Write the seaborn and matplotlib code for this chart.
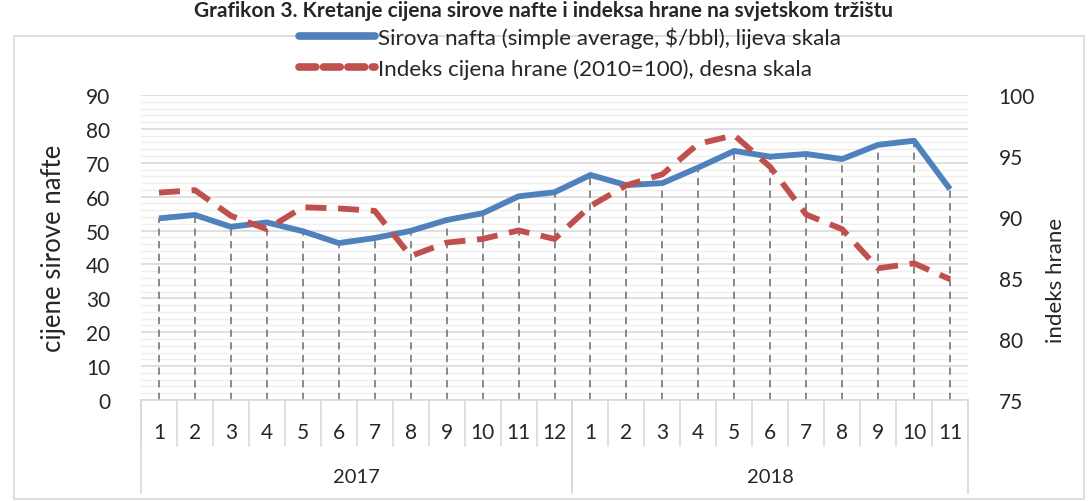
import matplotlib
matplotlib.use("Agg")
import matplotlib.pyplot as plt
import matplotlib.patches as mpatches
import matplotlib.transforms as mtrans
from matplotlib.ticker import MultipleLocator
import seaborn as sns
import pandas as pd
import numpy as np

title = "Grafikon 3. Kretanje cijena sirove nafte i indeksa hrane na svjetskom tržištu"
oil_label = "Sirova nafta (simple average, $/bbl), lijeva skala"
food_label = "Indeks cijena hrane (2010=100), desna skala"
left_label = "cijene sirove nafte"
right_label = "indeks hrane"

months = ["1", "2", "3", "4", "5", "6", "7", "8", "9", "10", "11", "12",
          "1", "2", "3", "4", "5", "6", "7", "8", "9", "10", "11"]
years = ["2017", "2018"]
year_counts = [12, 11]
oil = [53.6, 54.6, 51.1, 52.4, 49.8, 46.3, 47.8, 49.9, 53.1, 55.1, 60.1, 61.3,
       66.4, 63.4, 64.0, 68.6, 73.5, 71.8, 72.6, 71.1, 75.3, 76.5, 62.2]
food = [92.0, 92.2, 90.1, 89.0, 90.8, 90.7, 90.5, 86.8, 87.9, 88.2, 88.9, 88.2,
        90.9, 92.6, 93.5, 96.0, 96.7, 94.1, 90.2, 89.0, 85.8, 86.2, 84.9]

sns.set_theme(style="white")
FONT = ["Lato", "DejaVu Sans"]
plt.rcParams["font.family"] = FONT

BLUE = "#4F81BD"
RED = "#C0504D"

df = pd.DataFrame({"x": np.arange(len(months)), "oil": oil, "food": food})

fig = plt.figure(figsize=(10.88, 5.02), dpi=100)
ax = fig.add_axes([141 / 1088, 1 - 401 / 502, (968 - 141) / 1088, (401 - 96) / 502])
ax2 = ax.twinx()

# drop lines
ax.vlines(df["x"], 0, df["oil"], colors="#7f7f7f", linestyles=(0, (4, 3)), linewidth=1.3, zorder=2)

sns.lineplot(data=df, x="x", y="oil", ax=ax, color=BLUE, linewidth=4.2, zorder=4, legend=False)
sns.lineplot(data=df, x="x", y="food", ax=ax2, color=RED, linewidth=4.2, zorder=4, legend=False)
l2 = ax2.get_lines()[0]
l2.set_dashes((3.6, 2.0))
ax.get_lines()[0].set_solid_capstyle("butt")

ax.set_xlim(-0.5, len(months) - 0.5)
ax.set_ylim(0, 90)
ax2.set_ylim(75, 100)
ax.yaxis.set_major_locator(MultipleLocator(10))
ax.yaxis.set_minor_locator(MultipleLocator(2))
ax2.yaxis.set_major_locator(MultipleLocator(5))
ax.grid(True, which="major", axis="y", color="#d9d9d9", linewidth=1.2)
ax.grid(True, which="minor", axis="y", color="#efefef", linewidth=1.0)
ax.grid(False, axis="x")
ax2.grid(False)
ax.set_axisbelow(True)

for a in (ax, ax2):
    for s in a.spines.values():
        s.set_visible(False)
ax.spines["bottom"].set_visible(True)
ax.spines["bottom"].set_color("#d9d9d9")
ax.spines["bottom"].set_linewidth(1.2)

ax.tick_params(axis="y", which="both", length=0, labelsize=15, pad=22)
ax2.tick_params(axis="y", which="both", length=0, labelsize=15, pad=22)
ax.tick_params(axis="x", length=0, labelbottom=False)
ax.set_xticks(df["x"])
ax.set_xlabel("")
ax.set_ylabel(left_label, fontsize=18.5)
ax.yaxis.set_label_coords(-(141 - 66) / 827, 0.5)
ax2.set_ylabel(right_label, fontsize=16)
ax2.yaxis.set_label_position("right")
ax2.yaxis.set_label_coords((1046 - 141) / 827, (401 - 280) / 305)

# category axis boxes
trans = mtrans.blended_transform_factory(ax.transData, ax.transAxes)
month_h = -(447 - 401) / 305
year_h = -(494 - 401) / 305
for i in range(len(months) + 1):
    ax.plot([i - 0.5, i - 0.5], [0, month_h], transform=trans, color="#d9d9d9",
            linewidth=1.2, clip_on=False)
for i, m in enumerate(months):
    ax.text(i, -(433 - 401) / 305, m, transform=trans, ha="center", va="center",
            fontsize=15)
start = 0
for y, c in zip(years, year_counts):
    for b in (start, start + c):
        ax.plot([b - 0.5, b - 0.5], [0, year_h], transform=trans, color="#d9d9d9",
                linewidth=1.2, clip_on=False)
    ax.text(start + (c - 1) / 2, -(478 - 401) / 305, y, transform=trans,
            ha="center", va="center", fontsize=14.5)
    start += c

# chart border
fig.patches.append(mpatches.Rectangle((14 / 1088, 1 - 500 / 502), (1084 - 14) / 1088,
                                      (500 - 37) / 502, transform=fig.transFigure,
                                      fill=False, edgecolor="#d9d9d9", linewidth=1.2))

fig.text(0.5, 1 - 1 / 502, title, ha="center", va="top", fontsize=15, fontweight="bold")

handles = [plt.Line2D([], [], color=BLUE, linewidth=5.5, solid_capstyle="round"),
           plt.Line2D([], [], color=RED, linewidth=5.5, dashes=(2.2, 1.0), dash_capstyle="round")]
fig.legend(handles, [oil_label, food_label], loc="upper center",
           bbox_to_anchor=(0.524, 1 - 12 / 502), ncol=1, frameon=False, fontsize=16.1,
           handlelength=3.4, handletextpad=0.15, labelspacing=0.45, borderpad=0.2)

fig.savefig("out.png", dpi=100)
